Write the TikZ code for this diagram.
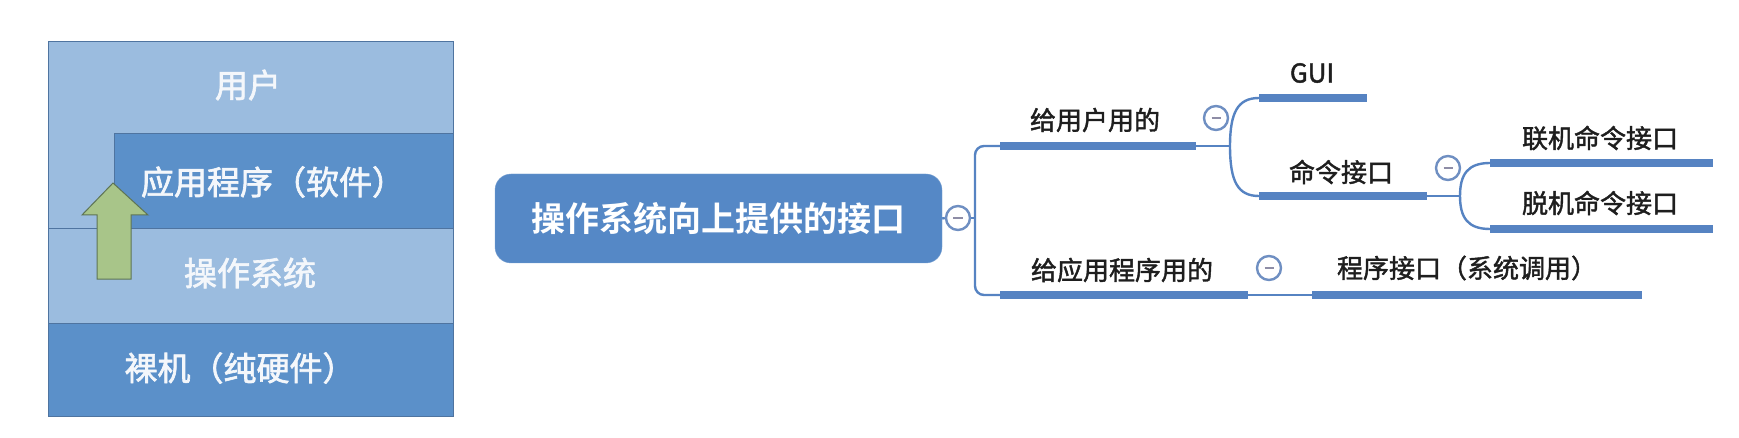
\documentclass[tikz,border=0pt]{standalone}
\usepackage{fontspec}
\usetikzlibrary{calc}
\setmainfont{Noto Sans CJK SC}[BoldFont={Noto Sans CJK SC Bold}]
\newfontfamily\medfont{Noto Sans CJK SC}[FakeBold=1.6]
\newfontfamily\panelfont{Noto Sans CJK SC}[FakeBold=2]
\definecolor{lightblue}{HTML}{9BBCDF}
\definecolor{darkblue}{HTML}{5B90C9}
\definecolor{panelborder}{HTML}{4F74A0}
\definecolor{arrowgreen}{HTML}{A8C589}
\definecolor{arrowborder}{HTML}{5E7454}
\definecolor{mapblue}{HTML}{5683C2}
\definecolor{rootblue}{HTML}{5588C6}
\definecolor{circleline}{HTML}{6F8FC2}
\definecolor{minusgrey}{HTML}{8E8DA6}
\definecolor{maptext}{HTML}{1E1E1E}
\definecolor{paneltext}{HTML}{F4F7FB}
\tikzset{
  paneltxt/.style={inner sep=0pt, text=paneltext, font=\panelfont\fontsize{33}{36}\selectfont},
  maptxt/.style={inner sep=0pt, text=maptext, font=\medfont\fontsize{26}{30}\selectfont},
  underline/.style={draw=mapblue, line width=8pt},
  thinline/.style={draw=mapblue, line width=2.4pt},
  foldcircle/.style={circle, draw=circleline, fill=white, line width=2.4pt, minimum size=24pt, inner sep=0pt},
  minus/.style={draw=minusgrey, line width=2.4pt}
}
\begin{document}
\begin{tikzpicture}[x=1pt,y=-1pt]
\useasboundingbox (0,0) rectangle (1739,438);
% ---------- left panel ----------
\fill[lightblue] (48,42) rectangle (453,416);
\filldraw[fill=darkblue, draw=panelborder, line width=1pt] (114,229) -- (114,134) -- (453,134) -- (453,229) -- cycle;
\draw[panelborder, line width=1pt] (48,229) -- (114,229);
\filldraw[fill=darkblue, draw=panelborder, line width=1pt] (48,323) rectangle (453,416);
\draw[panelborder, line width=1pt] (48,42) rectangle (453,416);
\filldraw[fill=arrowgreen, draw=arrowborder, line width=1pt]
  (97,279) -- (97,215) -- (82,215) -- (113,183) -- (148,215) -- (131,215) -- (131,279) -- cycle;
\node[paneltxt] (user) at (248,85) {用户};
\node[paneltxt] (app) at (273,182) {应用程序（软件）};
\node[paneltxt] (os) at (250,273) {操作系统};
\node[paneltxt] (hw) at (240,368) {裸机（纯硬件）};
% ---------- mind map ----------
\node[draw=rootblue!80!white, fill=rootblue, rounded corners=16pt, minimum width=447pt, minimum height=89pt,
      inner sep=0pt, text=white, font=\bfseries\fontsize{34}{38}\selectfont] (root) at (718.5,218.5) {操作系统向上提供的接口};
\node[foldcircle] (c0) at (958,218) {};
\draw[minus] ($(c0)+(-5,0)$) -- ($(c0)+(5,0)$);
\coordinate (t0) at (975,218);
\draw[thinline] (root.east) -- (c0.west);
\draw[thinline] (c0.east) -- (t0);
% trunk
\coordinate (u1s) at (1000,146);
\coordinate (u1e) at (1196,146);
\coordinate (u2s) at (1000,295);
\coordinate (u2e) at (1248,295);
\draw[thinline, rounded corners=9pt] (u1s) -- (975,146) -- (975,295) -- (u2s);
\draw[underline] (u1s) -- (u1e);
\draw[underline] (u2s) -- (u2e);
\node[maptxt] (n1) at (1095,120) {给用户用的};
\node[maptxt] (n2) at (1122,270) {给应用程序用的};
\node[foldcircle] (c1) at (1216,118) {};
\draw[minus] ($(c1)+(-4.5,0)$) -- ($(c1)+(4.5,0)$);
\node[foldcircle] (c2) at (1269,268) {};
\draw[minus] ($(c2)+(-4.5,0)$) -- ($(c2)+(4.5,0)$);
% branch from 给用户用的
\coordinate (b1) at (1230,146);
\coordinate (g1s) at (1259,98);
\coordinate (g1e) at (1367,98);
\coordinate (m1s) at (1259,196);
\coordinate (m1e) at (1427,196);
\draw[thinline] (u1e) -- (b1);
\draw[thinline] (b1) .. controls (1230,112) and (1238,98) .. (g1s);
\draw[thinline] (b1) .. controls (1230,182) and (1238,196) .. (m1s);
\draw[underline] (g1s) -- (g1e);
\draw[underline] (m1s) -- (m1e);
\node[maptxt] (gui) at (1312,73) {GUI};
\node[maptxt] (cmd) at (1341,172) {命令接口};
\node[foldcircle] (c3) at (1448,168) {};
\draw[minus] ($(c3)+(-4.5,0)$) -- ($(c3)+(4.5,0)$);
% branch from 命令接口
\coordinate (b2) at (1460,196);
\coordinate (o1s) at (1490,163);
\coordinate (o1e) at (1713,163);
\coordinate (o2s) at (1490,229);
\coordinate (o2e) at (1713,229);
\draw[thinline] (m1e) -- (b2);
\draw[thinline] (b2) .. controls (1460,174) and (1468,163) .. (o1s);
\draw[thinline] (b2) .. controls (1460,218) and (1468,229) .. (o2s);
\draw[underline] (o1s) -- (o1e);
\draw[underline] (o2s) -- (o2e);
\node[maptxt] (online) at (1600,138) {联机命令接口};
\node[maptxt] (offline) at (1600,203) {脱机命令接口};
% branch from 给应用程序用的
\coordinate (p1s) at (1312,295);
\coordinate (p1e) at (1642,295);
\draw[thinline] (u2e) -- (p1s);
\draw[underline] (p1s) -- (p1e);
\node[maptxt] (prog) at (1467,268) {程序接口（系统调用）};
\end{tikzpicture}
\end{document}
